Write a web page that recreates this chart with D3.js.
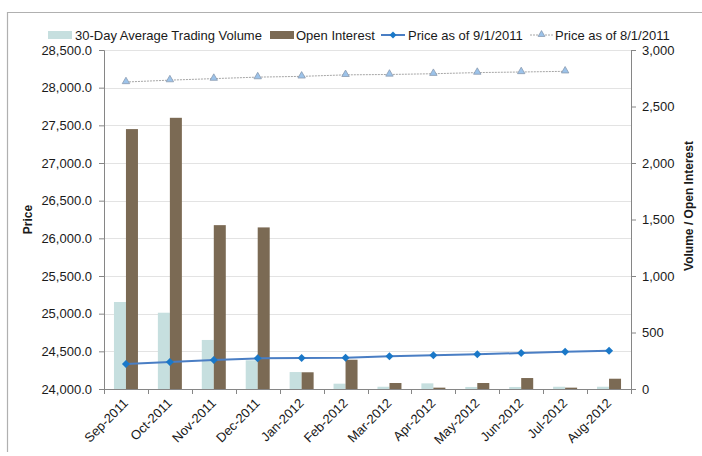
<!DOCTYPE html>
<html>
<head>
<meta charset="utf-8">
<script src="https://cdn.jsdelivr.net/npm/d3@7"></script>
<style>
  body { margin: 0; background: #fff; }
  text { font-family: "Liberation Sans", Arial, sans-serif; fill: #1a1a1a; }
</style>
</head>
<body>
<div id="vis"></div>
<script>
// data
var months = ["Sep-2011", "Oct-2011", "Nov-2011", "Dec-2011", "Jan-2012", "Feb-2012",
              "Mar-2012", "Apr-2012", "May-2012", "Jun-2012", "Jul-2012", "Aug-2012"];
var avgVolume    = [770, 675, 434, 254, 150, 47, 20, 50, 18, 18, 20, 20];
var openInterest = [2300, 2400, 1450, 1430, 148, 259, 53, 12, 53, 97, 12, 91];
var priceSep     = [24332, 24358, 24385, 24407, 24412, 24416, 24434, 24447, 24460, 24478, 24496, 24509];
var priceAug     = [28075, 28100, 28120, 28140, 28150, 28170, 28175, 28185, 28200, 28208, 28217];
var priceTicks   = d3.range(24000, 28501, 500);
var volTicks     = d3.range(0, 3001, 500);

var W = 702, H = 456;
var margin = {top: 50, right: 71, bottom: 67, left: 104};
var x0 = margin.left, x1 = W - margin.right,
    y0 = H - margin.bottom, y1 = margin.top;

var svg = d3.select("#vis").append("svg")
  .attr("width", W)
  .attr("height", H);

// outer frame (left + top only visible)
svg.append("path")
  .attr("d", "M7.5,452 V12.5 H702")
  .attr("fill", "none")
  .attr("stroke", "#b0b0b0")
  .attr("stroke-width", 1.2);

var x = d3.scaleBand().domain(months).range([x0, x1]);
var xs = d3.scaleBand().domain(["vol", "oi"]).range([0, x.bandwidth()]).paddingOuter(0.83);
var yL = d3.scaleLinear().domain([24000, 28500]).range([y0, y1]);
var yR = d3.scaleLinear().domain([0, 3000]).range([y0, y1]);

// gridlines
svg.append("g")
  .selectAll("line")
  .data(priceTicks.slice(1))
  .join("line")
    .attr("x1", x0).attr("x2", x1)
    .attr("y1", function(d){ return Math.round(yL(d)) + 0.5; })
    .attr("y2", function(d){ return Math.round(yL(d)) + 0.5; })
    .attr("stroke", "#e3e3e3");

// bars
var groups = svg.append("g")
  .selectAll("g")
  .data(months)
  .join("g")
    .attr("transform", function(d){ return "translate(" + x(d) + ",0)"; });

groups.append("rect")
  .attr("x", xs("vol"))
  .attr("width", xs.bandwidth())
  .attr("y", function(d, i){ return yR(avgVolume[i]); })
  .attr("height", function(d, i){ return y0 - yR(avgVolume[i]); })
  .attr("fill", "#c6dfdf");

groups.append("rect")
  .attr("x", xs("oi"))
  .attr("width", xs.bandwidth())
  .attr("y", function(d, i){ return yR(openInterest[i]); })
  .attr("height", function(d, i){ return y0 - yR(openInterest[i]); })
  .attr("fill", "#7b6a54");

// axes
var leftAxis = d3.axisLeft(yL)
  .tickValues(priceTicks)
  .tickFormat(d3.format(",.1f"))
  .tickSize(5)
  .tickPadding(7);

var rightAxis = d3.axisRight(yR)
  .tickValues(volTicks)
  .tickFormat(d3.format(","))
  .tickSize(5)
  .tickPadding(6);

var lg = svg.append("g").attr("transform", "translate(" + x0 + ",0)").call(leftAxis);
var rg = svg.append("g").attr("transform", "translate(" + x1 + ",0)").call(rightAxis);
[lg, rg].forEach(function(g){
  g.select(".domain").attr("stroke", "#868686");
  g.selectAll(".tick line").attr("stroke", "#868686");
  g.selectAll(".tick text")
    .style("font-family", "'Liberation Sans', Arial, sans-serif")
    .style("font-size", "13px")
    .attr("fill", "#1a1a1a");
});

// x axis
var xg = svg.append("g");
xg.append("line")
  .attr("x1", x0).attr("x2", x1)
  .attr("y1", y0 + 0.5).attr("y2", y0 + 0.5)
  .attr("stroke", "#868686");
xg.selectAll(".xt")
  .data(months.concat(["end"]))
  .join("line")
    .attr("class", "xt")
    .attr("x1", function(d){ return Math.round(d === "end" ? x1 : x(d)) + 0.5; })
    .attr("x2", function(d){ return Math.round(d === "end" ? x1 : x(d)) + 0.5; })
    .attr("y1", y0).attr("y2", y0 + 5)
    .attr("stroke", "#868686");
xg.selectAll(".xl")
  .data(months)
  .join("text")
    .attr("class", "xl")
    .attr("text-anchor", "end")
    .style("font-size", "13px")
    .attr("transform", function(d){
      return "translate(" + (x(d) + x.bandwidth() / 2 + 3) + "," + (y0 + 15) + ") rotate(-45)";
    })
    .text(function(d){ return d; });

// price lines
var cx = function(d, i){ return x(months[i]) + x.bandwidth() / 2; };

svg.append("path")
  .datum(priceAug)
  .attr("fill", "none")
  .attr("stroke", "#a6a6a6")
  .attr("stroke-width", 1)
  .attr("stroke-dasharray", "2,1")
  .attr("d", d3.line().x(cx).y(function(d){ return yL(d); }));

svg.append("g")
  .selectAll("path")
  .data(priceAug)
  .join("path")
    .attr("transform", function(d, i){ return "translate(" + cx(d, i) + "," + (yL(d) - 0.5) + ")"; })
    .attr("d", d3.symbol(d3.symbolTriangle, 24))
    .attr("fill", "#9cc3ea")
    .attr("stroke", "#8a9ab0")
    .attr("stroke-width", 0.8);

svg.append("path")
  .datum(priceSep)
  .attr("fill", "none")
  .attr("stroke", "#4a7ec4")
  .attr("stroke-width", 2)
  .attr("d", d3.line().x(cx).y(function(d){ return yL(d); }));

svg.append("g")
  .selectAll("path")
  .data(priceSep)
  .join("path")
    .attr("transform", function(d, i){ return "translate(" + cx(d, i) + "," + yL(d) + ") rotate(45)"; })
    .attr("d", d3.symbol(d3.symbolSquare, 32))
    .attr("fill", "#1a78c8");

// axis titles
svg.append("text")
  .attr("transform", "translate(32," + ((y0 + y1) / 2) + ") rotate(-90)")
  .attr("text-anchor", "middle")
  .style("font-size", "12px")
  .style("font-weight", "bold")
  .text("Price");

svg.append("text")
  .attr("transform", "translate(693,206) rotate(-90)")
  .attr("text-anchor", "middle")
  .style("font-size", "12px")
  .style("font-weight", "bold")
  .text("Volume / Open Interest");

// legend
var legend = svg.append("g").attr("transform", "translate(0,35)");
legend.append("rect").attr("x", 48).attr("y", -4).attr("width", 24).attr("height", 8).attr("fill", "#c6dfdf");
legend.append("text").attr("x", 75).attr("y", 4.5).style("font-size", "13px").text("30-Day Average Trading Volume");
legend.append("rect").attr("x", 270).attr("y", -4).attr("width", 24).attr("height", 8).attr("fill", "#7b6a54");
legend.append("text").attr("x", 296).attr("y", 4.5).style("font-size", "13px").text("Open Interest");
legend.append("line").attr("x1", 381).attr("x2", 405).attr("y1", 0).attr("y2", 0)
  .attr("stroke", "#4a7ec4").attr("stroke-width", 2);
legend.append("path").attr("transform", "translate(393,0) rotate(45)")
  .attr("d", d3.symbol(d3.symbolSquare, 24)).attr("fill", "#1a78c8");
legend.append("text").attr("x", 408).attr("y", 4.5).style("font-size", "13px").text("Price as of 9/1/2011");
legend.append("line").attr("x1", 530).attr("x2", 553).attr("y1", 0).attr("y2", 0)
  .attr("stroke", "#a6a6a6").attr("stroke-dasharray", "2,1");
legend.append("path").attr("transform", "translate(541.5,-0.5)")
  .attr("d", d3.symbol(d3.symbolTriangle, 20))
  .attr("fill", "#9cc3ea").attr("stroke", "#8a9ab0").attr("stroke-width", 0.8);
legend.append("text").attr("x", 555).attr("y", 4.5).style("font-size", "13px").text("Price as of 8/1/2011");
</script>
</body>
</html>
